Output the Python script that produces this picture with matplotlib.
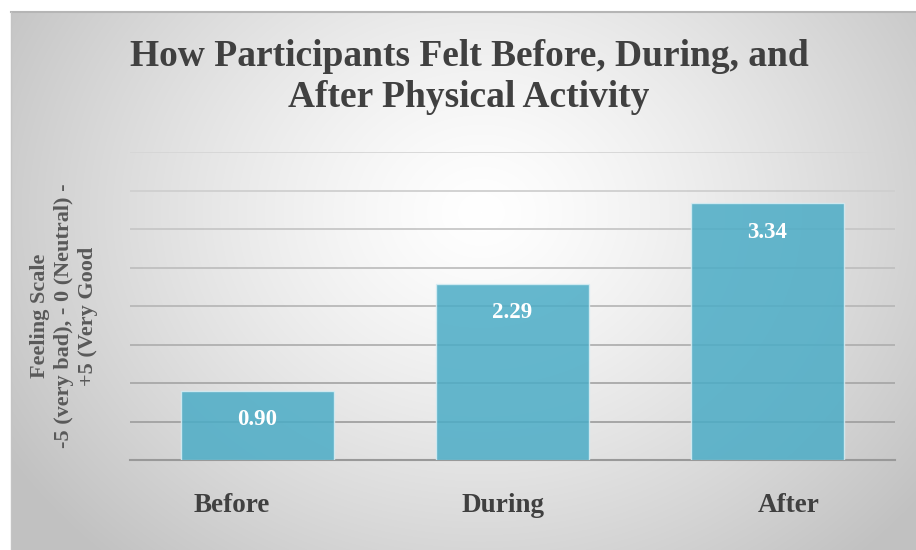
import numpy as np
import matplotlib
matplotlib.use("Agg")
from matplotlib import pyplot as plt
from matplotlib.lines import Line2D
from matplotlib.transforms import ScaledTranslation

phases = ["Before", "During", "After"]
feeling = [0.90, 2.29, 3.34]

W, H = 916, 550
fig = plt.figure(figsize=(W / 100, H / 100), dpi=100, facecolor="white")

# radial gradient background of the chart area
bg = fig.add_axes([11 / W, 0, 1 - 11 / W, 1 - 12 / H], zorder=-5)
yy, xx = np.mgrid[0:538, 0:905]
d = np.sqrt(((xx - 470) / 560) ** 2 + ((yy - 200) / 470) ** 2)
shade = 255 - 62 * np.clip(d, 0, 1) ** 1.3
img = np.dstack([shade, shade, shade]).astype(np.uint8)
bg.imshow(img, aspect="auto", interpolation="bilinear")
bg.axis("off")
fig.add_artist(Line2D([11 / W, 1], [1 - 12 / H, 1 - 12 / H], color="#b5b5b5", lw=1.5))
fig.add_artist(Line2D([11 / W, 11 / W], [0, 1 - 12 / H], color="#c4c4c4", lw=1.0))

ax = fig.add_axes([130 / W, 90 / H, 765 / W, 308 / H])
ax.set_facecolor("none")
x = np.arange(len(phases))
bars = ax.bar(x, feeling, width=0.6, color="#4bacc6", alpha=0.85,
              edgecolor="#d8eef4", linewidth=1.0, zorder=3)
ax.set_xlim(-0.5, 2.5)
ax.set_ylim(0, 4)
ax.set_yticks(np.arange(0, 4.01, 0.5))
ax.yaxis.grid(True, lw=1.3, zorder=0)
ax.set_axisbelow(True)
# gridlines fade out toward the top like the original
glines = ax.get_ygridlines()
greys = np.linspace(0.60, 0.84, len(glines))
for gl, g in zip(glines, greys):
    gl.set_color((g, g, g))
ax.tick_params(left=False, bottom=False, labelleft=False)
for s in ["top", "right", "left"]:
    ax.spines[s].set_visible(False)
ax.spines["bottom"].set_color("#999999")
ax.spines["bottom"].set_linewidth(1.5)

ax.set_xticks(x)
ax.set_xticklabels(phases, fontfamily="Liberation Serif", fontweight="bold",
                   fontsize=19.5, color="#404040")
ax.tick_params(axis="x", pad=20)
# category labels sit a little off the bar centres in the original
shifts = [-26, -10, 21]
for lab, dx in zip(ax.get_xticklabels(), shifts):
    lab.set_transform(lab.get_transform() + ScaledTranslation(dx / 100, 0, fig.dpi_scale_trans))

for xi, v in zip(x, feeling):
    ax.annotate(f"{v:.2f}", (xi, v), xytext=(0, -25), textcoords="offset points",
                ha="center", va="baseline", color="white", fontsize=16.5,
                fontfamily="Liberation Serif", fontweight="bold", zorder=4)

fig.text(469 / W, 1 - 77 / H, "How Participants Felt Before, During, and\nAfter Physical Activity",
         ha="center", va="center", fontsize=27, fontweight="bold",
         fontfamily="Liberation Serif", color="#404040", linespacing=1.2)

fig.text(64 / W, 1 - 316 / H, "Feeling Scale\n-5 (very bad), - 0 (Neutral) -\n+5 (Very Good",
         ha="center", va="center", rotation=90, multialignment="center",
         fontsize=16, fontweight="bold", fontfamily="Liberation Serif",
         color="#595959", linespacing=1.28)

fig.savefig("out.png", dpi=100)
